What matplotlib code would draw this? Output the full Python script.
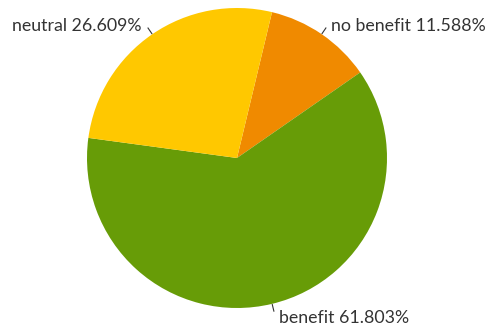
import numpy as np
import matplotlib.pyplot as plt

# outcome shares (percent)
categories = ['no benefit', 'benefit', 'neutral']
shares = [11.588, 61.803, 26.609]
colors = ['#F08A00', '#679C07', '#FFC800']

W, H = 489, 327
cx, cy, R = 237, 158, 150

fig = plt.figure(figsize=(W / 100, H / 100), dpi=100)
ax = fig.add_axes([(cx - R) / W, (H - cy - R) / H, 2 * R / W, 2 * R / H])

wedges, _ = ax.pie(shares, colors=colors, startangle=76.5, counterclock=False,
                   radius=1.0, wedgeprops=dict(linewidth=0))
ax.set_xlim(-1, 1)
ax.set_ylim(-1, 1)
ax.axis('off')

for w, name, val in zip(wedges, categories, shares):
    ang = np.deg2rad((w.theta1 + w.theta2) / 2)
    x, y = np.cos(ang), np.sin(ang)
    ax.plot([x * 1.005, x * 1.05], [y * 1.005, y * 1.05], color='#333333',
            lw=0.8, clip_on=False)
    ha = 'left' if x > 0 else 'right'
    ax.annotate(f'{name} {val:.3f}%', xy=(x * 1.05, y * 1.05),
                xytext=(4 if x > 0 else -5, 1.5 if y > 0 else -5),
                textcoords='offset points', ha=ha, va='center',
                fontsize=12.8, family='Lato', color='#333333',
                annotation_clip=False)

fig.savefig('out.png', dpi=100)
